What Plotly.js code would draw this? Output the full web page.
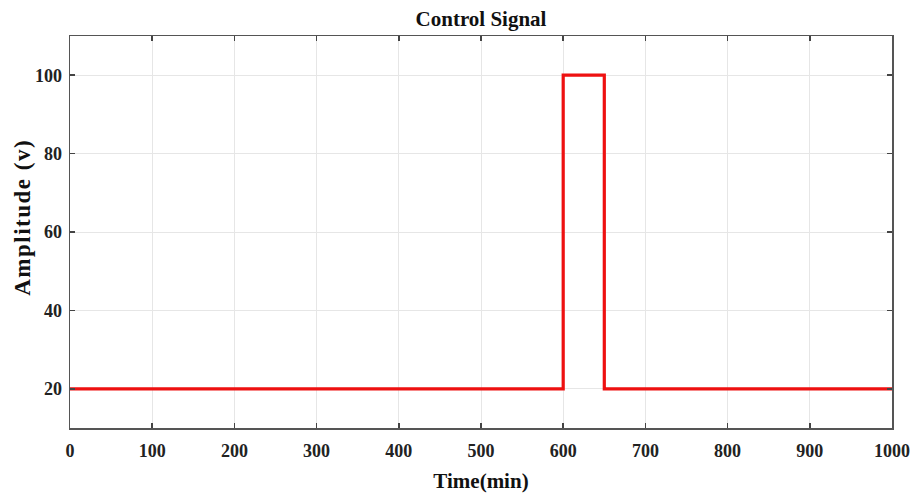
<!DOCTYPE html>
<html>
<head>
<meta charset="utf-8">
<script src="https://cdn.plot.ly/plotly-3.0.1.min.js"></script>
<style>
  html, body { margin: 0; padding: 0; background: #fff; }
  #chart { width: 916px; height: 497px; }
  /* the vertical axis label is set slightly spaced */
  #chart .annotation-text { letter-spacing: 1.5px; }
</style>
</head>
<body>
<div id="chart"></div>
<script>
// Step control signal: baseline level with a single pulse
const timeMin = [0, 600, 600, 650, 650, 1000];
const amplitudeV = [20, 20, 100, 100, 20, 20];

const xTicks = [0, 100, 200, 300, 400, 500, 600, 700, 800, 900, 1000];
const yTicks = [20, 40, 60, 80, 100];

const serif = 'Liberation Serif, Times New Roman, serif';
const tickFont = { family: serif, size: 18, color: '#222' };

const axisCommon = {
  showline: true,
  linecolor: '#555',
  linewidth: 1.5,
  mirror: 'ticks',
  ticks: 'inside',
  ticklen: 5,
  tickwidth: 1.5,
  tickcolor: '#444',
  showgrid: true,
  gridcolor: '#e6e6e6',
  gridwidth: 1,
  zeroline: false,
  tickfont: tickFont
};

const trace = {
  x: timeMin,
  y: amplitudeV,
  type: 'scatter',
  mode: 'lines',
  line: { color: '#ee1111', width: 3.2, shape: 'linear' },
  hoverinfo: 'skip'
};

const layout = {
  width: 916,
  height: 497,
  margin: { l: 70, r: 24, t: 36, b: 69 },
  paper_bgcolor: '#fff',
  plot_bgcolor: '#fff',
  showlegend: false,
  title: {
    text: '<b>Control Signal</b>',
    font: { family: serif, size: 21, color: '#111' },
    xref: 'paper', x: 0.5, xanchor: 'center',
    yref: 'container', y: 0.962, yanchor: 'middle'
  },
  xaxis: Object.assign({}, axisCommon, {
    range: [0, 1000],
    tickvals: xTicks,
    ticktext: xTicks.map(v => '<b>' + v + '</b>'),
    ticklabelstandoff: 6,
    title: { text: '<b>Time(min)</b>', font: { family: serif, size: 21, color: '#111' }, standoff: 13 }
  }),
  yaxis: Object.assign({}, axisCommon, {
    range: [10, 110],
    tickvals: yTicks,
    ticktext: yTicks.map(v => '<b>' + v + '</b>'),
    ticklabelstandoff: 3
  }),
  annotations: [{
    text: '<b>Amplitude (v)</b>',
    font: { family: serif, size: 23, color: '#111' },
    textangle: -90,
    xref: 'paper', x: 0, xanchor: 'center', xshift: -48,
    yref: 'paper', y: 0.5, yanchor: 'middle', yshift: 14,
    showarrow: false
  }]
};

Plotly.newPlot('chart', [trace], layout, { displayModeBar: false, staticPlot: true });
</script>
</body>
</html>
